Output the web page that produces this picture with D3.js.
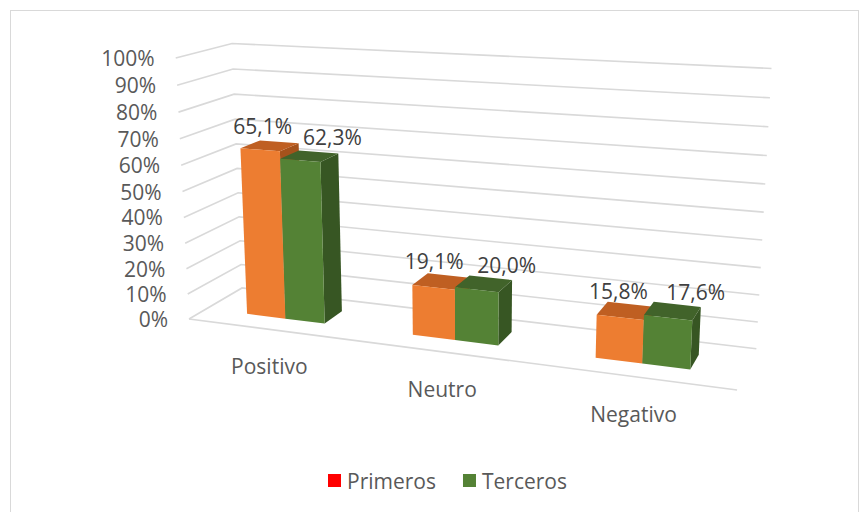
<!DOCTYPE html>
<html>
<head>
<meta charset="utf-8">
<script src="https://cdn.jsdelivr.net/npm/d3@7"></script>
<style>
  html, body { margin: 0; padding: 0; background: #fff; }
  svg { display: block; }
  text { font-family: "Open Sans", "Liberation Sans", sans-serif; }
</style>
</head>
<body>
<div id="chart"></div>
<script>
// ---- data ----
const categories = ["Positivo", "Neutro", "Negativo"];
const seriesNames = ["Primeros", "Terceros"];
const primeros = [65.1, 19.1, 15.8];
const terceros = [62.3, 20.0, 17.6];
const tickValues = [0, 10, 20, 30, 40, 50, 60, 70, 80, 90, 100];
const legendColors = ["#FF0000", "#548235"];

// ---- layout ----
const W = 861, H = 512;
const FS = 21;
const svg = d3.select("#chart").append("svg").attr("width", W).attr("height", H);

svg.append("rect").attr("x", 10.5).attr("y", 10.5).attr("width", 848).attr("height", 520)
  .attr("fill", "#fff").attr("stroke", "#D9D9D9").attr("stroke-width", 1);

// perspective projection of the unit box (u: category axis, v: value, w: depth)
const O = [189, 319];
const VPu = [-3139, -112], VPv = [465, 5746], VPw = [990, -150];
const Lu = -0.1414, Lv = -0.0459, Lw = 0.0709;
function proj(u, v, w) {
  const X = O[0] + Lu * u * VPu[0] + Lv * v * VPv[0] + Lw * w * VPw[0];
  const Y = O[1] + Lu * u * VPu[1] + Lv * v * VPv[1] + Lw * w * VPw[1];
  const Wh = 1 + Lu * u + Lv * v + Lw * w;
  return [X / Wh, Y / Wh];
}

const yScale = d3.scaleLinear().domain([0, 100]).range([0, 1]);
const xScale = d3.scaleBand().domain(categories).range([0, 1]).paddingInner(0.52).paddingOuter(0.26);
const xSub = d3.scaleBand().domain(seriesNames).range([0, xScale.bandwidth()]).padding(0);
const W0 = 0.315, W1 = 0.685;

const grid = svg.append("g").attr("stroke", "#D9D9D9").attr("stroke-width", 1.6).attr("fill", "none");
const line = d3.line();

// back wall & left wall gridlines
tickValues.forEach(t => {
  const v = yScale(t);
  grid.append("path").attr("d", line([proj(0, v, 0), proj(0, v, 1), proj(1, v, 1)]));
});
// floor front edge
grid.append("path").attr("d", line([proj(0, 0, 0), proj(1, 0, 0)]));

// y tick labels
const fmtTick = d => d + "%";
svg.append("g").selectAll("text").data(tickValues).join("text")
  .attr("x", d => proj(0, yScale(d), 0)[0] - 21)
  .attr("y", d => proj(0, yScale(d), 0)[1])
  .attr("text-anchor", "end").attr("dominant-baseline", "central")
  .attr("font-size", FS).attr("fill", "#595959")
  .text(fmtTick);

// category labels
svg.append("g").selectAll("text").data(categories).join("text")
  .attr("x", d => proj(xScale(d) + xScale.bandwidth() / 2, 0, 0)[0])
  .attr("y", d => proj(xScale(d) + xScale.bandwidth() / 2, 0, 0)[1] + 37)
  .attr("text-anchor", "middle").attr("dominant-baseline", "central")
  .attr("font-size", FS).attr("fill", "#595959")
  .text(d => d);

// bars
const palette = {
  Primeros: { front: "#ED7D31", top: "#BF5F22", side: "#A5521C" },
  Terceros: { front: "#548235", top: "#41632A", side: "#375623" }
};
const values = { Primeros: primeros, Terceros: terceros };
const labelOffset = { Primeros: [-7, -20], Terceros: [23, -19] };
const locale = d3.formatLocale({ decimal: ",", thousands: ".", grouping: [3], currency: ["", "€"] });
const fmt1 = locale.format(".1f");

const barsG = svg.append("g");
const labelsG = svg.append("g");
categories.forEach((c, i) => {
  seriesNames.forEach(s => {
    const val = values[s][i];
    const u0 = xScale(c) + xSub(s), u1 = u0 + xSub.bandwidth();
    const v = yScale(val);
    const poly = pts => pts.map(p => p.join(",")).join(" ");
    const g = barsG.append("g");
    g.append("polygon").attr("points", poly([proj(u1, 0, W0), proj(u1, 0, W1), proj(u1, v, W1), proj(u1, v, W0)]))
      .attr("fill", palette[s].side);
    g.append("polygon").attr("points", poly([proj(u0, v, W0), proj(u1, v, W0), proj(u1, v, W1), proj(u0, v, W1)]))
      .attr("fill", palette[s].top);
    g.append("polygon").attr("points", poly([proj(u0, 0, W0), proj(u1, 0, W0), proj(u1, v, W0), proj(u0, v, W0)]))
      .attr("fill", palette[s].front);
    const tc = proj((u0 + u1) / 2, v, 0.5);
    labelsG.append("text")
      .attr("x", tc[0] + labelOffset[s][0]).attr("y", tc[1] + labelOffset[s][1])
      .attr("text-anchor", "middle").attr("dominant-baseline", "central")
      .attr("font-size", FS).attr("fill", "#404040")
      .text(fmt1(val) + "%");
  });
});

// legend
const legend = svg.append("g");
let lx = 328;
seriesNames.forEach((s, i) => {
  legend.append("rect").attr("x", lx).attr("y", 474).attr("width", 13).attr("height", 13).attr("fill", legendColors[i]);
  const t = legend.append("text").attr("x", lx + 19).attr("y", 480.5)
    .attr("dominant-baseline", "central").attr("font-size", FS).attr("fill", "#595959").text(s);
  lx = lx + 19 + t.node().getComputedTextLength() + 27;
});
</script>
</body>
</html>
